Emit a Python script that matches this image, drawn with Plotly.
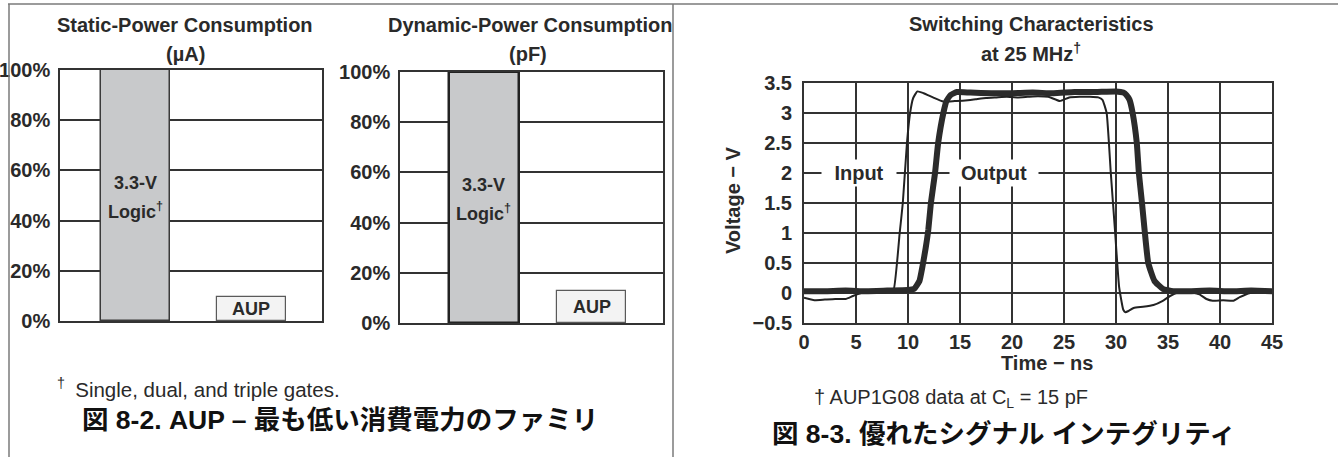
import plotly.graph_objects as go

# ---------------- data ----------------
bar_categories = ["3.3-V Logic", "AUP"]
static_values = [100, 9.6]      # % (µA)
dynamic_values = [100, 12.7]    # % (pF)
pct_ticks = [0, 20, 40, 60, 80, 100]
pct_labels = ["0%", "20%", "40%", "60%", "80%", "100%"]

input_t = [0, 1, 2, 3, 4, 4.7, 5.5, 6.5, 7.5, 8.2, 8.6, 9.2, 9.5, 9.9, 10.2, 10.5, 10.9, 11.5,
           12.4, 13.4, 14.5, 15.5, 16.5, 17.5, 18.5, 19.5, 20.5, 21.5, 22.5, 23.5, 24.6, 25.5,
           26.5, 27.5, 28.3, 28.7, 29.1, 29.5, 29.9, 30.3, 30.7, 30.9, 31.2, 31.7, 32.6, 33.6,
           34.5, 35.2, 36, 37, 38.1, 38.7, 39.3, 40.3, 41.3, 41.9, 42.9, 44, 45]
input_v = [-0.08, -0.12, -0.11, -0.1, -0.1, -0.05, 0.0, 0.0, 0.01, 0.02, 0.04, 1.0, 1.5, 2.5,
           3.0, 3.25, 3.36, 3.33, 3.26, 3.19, 3.2, 3.21, 3.23, 3.25, 3.26, 3.27, 3.26, 3.27,
           3.28, 3.27, 3.2, 3.26, 3.27, 3.27, 3.26, 3.22, 3.0, 2.0, 1.05, 0.1, -0.28, -0.32,
           -0.3, -0.25, -0.23, -0.2, -0.13, -0.05, 0.01, 0.02, -0.03, -0.1, -0.13, -0.12,
           -0.13, -0.07, 0.0, 0.02, 0.03]

output_t = [0, 2, 4, 6, 8, 10, 10.6, 11.1, 11.4, 11.7, 11.95, 12.2, 12.6, 12.9, 13.4, 13.7,
            14.1, 14.7, 16, 18, 20, 22, 24, 26, 28, 30, 30.7, 31.0, 31.3, 31.6, 32.0, 32.2,
            32.5, 32.75, 33.1, 33.7, 34.5, 35.5, 37, 39, 41, 43, 45]
output_v = [0.03, 0.03, 0.04, 0.03, 0.04, 0.05, 0.07, 0.2, 0.45, 0.75, 1.05, 1.5, 2.0, 2.5,
            3.0, 3.2, 3.3, 3.35, 3.34, 3.33, 3.33, 3.34, 3.33, 3.35, 3.35, 3.36, 3.34, 3.3,
            3.22, 3.0, 2.5, 2.0, 1.5, 1.05, 0.5, 0.2, 0.07, 0.03, 0.03, 0.04, 0.03, 0.04, 0.03]

time_ticks = [0, 5, 10, 15, 20, 25, 30, 35, 40, 45]
volt_ticks = [-0.5, 0, 0.5, 1, 1.5, 2, 2.5, 3, 3.5]
volt_labels = ["\u22120.5", "0", "0.5", "1", "1.5", "2", "2.5", "3", "3.5"]

# ---------------- layout helpers ----------------
W, H = 1338, 457
FONT = "Liberation Sans, Arial, Noto Sans CJK JP, sans-serif"
CJK = "Liberation Sans, Noto Sans CJK JP, sans-serif"
INK = "#2a2a2a"
GRID = "#333333"


def fx(p):
    return p / W


def fy(p):
    return 1 - p / H


fig = go.Figure()

bar_fill = ["#c8c9cb", "#f3f3f3"]
bar_line = ["#3a3a3a", "#5a5a5a"]

fig.add_trace(go.Bar(x=bar_categories, y=static_values, width=0.6,
                     marker=dict(color=bar_fill, line=dict(color=bar_line, width=[1.5, 1.2])),
                     xaxis="x", yaxis="y", showlegend=False, hoverinfo="skip"))
fig.add_trace(go.Bar(x=bar_categories, y=dynamic_values, width=0.65,
                     marker=dict(color=bar_fill, line=dict(color=["#222222", "#5a5a5a"], width=[2.5, 1.2])),
                     xaxis="x2", yaxis="y2", showlegend=False, hoverinfo="skip"))

fig.add_trace(go.Scatter(x=input_t, y=input_v, mode="lines",
                         line=dict(color="#222222", width=2, shape="spline", smoothing=0.4),
                         xaxis="x3", yaxis="y3", showlegend=False, hoverinfo="skip"))
fig.add_trace(go.Scatter(x=output_t, y=output_v, mode="lines",
                         line=dict(color="#2b2b2b", width=6, shape="spline", smoothing=0.4),
                         xaxis="x3", yaxis="y3", showlegend=False, hoverinfo="skip"))

tick_font = dict(family=FONT, size=20, color=INK, weight="bold")

bar_x_common = dict(showgrid=False, zeroline=False, showticklabels=False, ticks="",
                    showline=True, mirror=True, linecolor=GRID, linewidth=1.5,
                    fixedrange=True, automargin=False)
bar_y_common = dict(range=[0, 100], tickvals=pct_ticks, ticktext=pct_labels, showgrid=True,
                    gridcolor=GRID, gridwidth=1.5, zeroline=False, ticks="",
                    showline=True, mirror=True, linecolor=GRID, linewidth=1.5,
                    tickfont=tick_font, ticklabelstandoff=4, fixedrange=True, automargin=False)

fig.update_layout(
    template="none",
    width=W, height=H, autosize=False,
    margin=dict(l=0, r=0, t=0, b=0, pad=0, autoexpand=False),
    paper_bgcolor="white", plot_bgcolor="white",
    bargap=0,
    xaxis=dict(domain=[fx(60), fx(322)], range=[-0.651, 1.608], anchor="y", **bar_x_common),
    yaxis=dict(domain=[fy(321), fy(70)], anchor="x", **bar_y_common),
    xaxis2=dict(domain=[fx(400), fx(663)], range=[-0.781, 1.665], anchor="y2", **bar_x_common),
    yaxis2=dict(domain=[fy(323), fy(72)], anchor="x2", **bar_y_common),
    xaxis3=dict(domain=[fx(804), fx(1272)], range=[0, 45], anchor="y3", tickvals=time_ticks,
                showgrid=True, gridcolor=GRID, gridwidth=1.5, zeroline=False, ticks="",
                showline=True, mirror=True, linecolor=GRID, linewidth=2,
                tickfont=tick_font, ticklabelstandoff=0, fixedrange=True, automargin=False),
    yaxis3=dict(domain=[fy(323), fy(83)], range=[-0.5, 3.5], anchor="x3", tickvals=volt_ticks,
                ticktext=volt_labels, showgrid=True, gridcolor=GRID, gridwidth=1.5,
                zeroline=False, ticks="", showline=True, mirror=True, linecolor=GRID,
                linewidth=2, tickfont=tick_font, ticklabelstandoff=6, fixedrange=True,
                automargin=False),
)

# frame lines
frame = dict(color="#7a7a7a", width=1.5)
fig.add_shape(type="line", xref="paper", yref="paper", x0=fx(8), x1=1, y0=fy(4), y1=fy(4), line=frame)
fig.add_shape(type="line", xref="paper", yref="paper", x0=fx(9), x1=fx(9), y0=fy(4), y1=0, line=frame)
fig.add_shape(type="line", xref="paper", yref="paper", x0=fx(673), x1=fx(673), y0=fy(4), y1=0, line=frame)

ann = []


def txt(x, y, s, size=20, bold=True, xanchor="center", family=FONT, color=INK, **kw):
    ann.append(dict(x=fx(x), y=fy(y), xref="paper", yref="paper", text=s, showarrow=False,
                    xanchor=xanchor, yanchor="middle",
                    font=dict(family=family, size=size, color=color, weight="bold" if bold else "normal"),
                    **kw))


# titles
txt(185, 25, "Static-Power Consumption")
txt(185, 54, "(\u00b5A)")
txt(530, 25, "Dynamic-Power Consumption")
txt(528, 54, "(pF)")
txt(1031, 24, "Switching Characteristics")
txt(1031, 52, "at 25 MHz<sup>\u2020</sup>")

# bar labels (data coordinates)
for xa, ya, vals in (("x", "y", static_values), ("x2", "y2", dynamic_values)):
    ann.append(dict(x=bar_categories[0], y=55, xref=xa, yref=ya, text="3.3-V", showarrow=False,
                    font=dict(family=FONT, size=18, color=INK, weight="bold")))
    ann.append(dict(x=bar_categories[0], y=44, xref=xa, yref=ya, text="Logic<sup>\u2020</sup>",
                    showarrow=False, font=dict(family=FONT, size=18, color=INK, weight="bold")))
    ann.append(dict(x=bar_categories[1], y=vals[1] / 2, xref=xa, yref=ya, text="AUP",
                    showarrow=False, yanchor="middle",
                    font=dict(family=FONT, size=18, color=INK, weight="bold")))

# Input / Output labels on the 2 V line
ann.append(dict(x=5.3, y=2, xref="x3", yref="y3", text="Input", showarrow=False, width=74, height=26,
                bgcolor="white", borderpad=0, font=dict(family=FONT, size=20, color=INK, weight="bold")))
ann.append(dict(x=18.3, y=2, xref="x3", yref="y3", text="Output", showarrow=False, width=88, height=26,
                bgcolor="white", borderpad=0, font=dict(family=FONT, size=20, color=INK, weight="bold")))

# axis titles
txt(1047, 363, "Time \u2212 ns")
txt(733, 200, "Voltage \u2212 V", textangle=-90)

# footnotes
txt(55, 388, "<sup>\u2020</sup>\u2002Single, dual, and triple gates.", size=20.5, bold=False, xanchor="left")
txt(812, 398, "\u2020 AUP1G08 data at C<sub>L</sub> = 15 pF", bold=False, xanchor="left")

# captions
txt(340, 420, "\u56f3 8-2. AUP \u2013 \u6700\u3082\u4f4e\u3044\u6d88\u8cbb\u96fb\u529b\u306e\u30d5\u30a1\u30df\u30ea",
    size=26.5, family=CJK, color="#111111")
txt(1004, 434, "\u56f3 8-3. \u512a\u308c\u305f\u30b7\u30b0\u30ca\u30eb \u30a4\u30f3\u30c6\u30b0\u30ea\u30c6\u30a3",
    size=26.5, family=CJK, color="#111111")

fig.update_layout(annotations=ann)

fig.write_html("out.html", config={"displayModeBar": False},
               post_script="document.body.style.margin='0';")
